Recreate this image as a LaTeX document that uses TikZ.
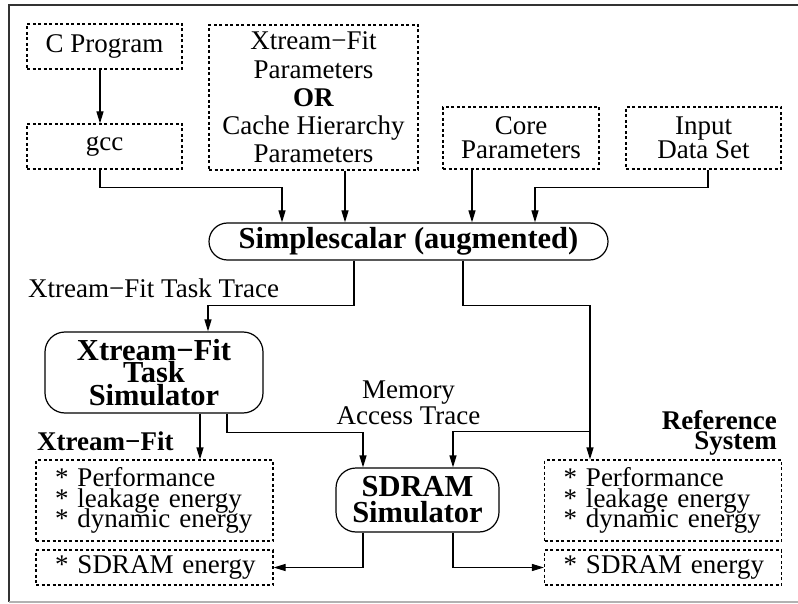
\documentclass[tikz,border=0pt]{standalone}
\usepackage{fontspec}
\setmainfont{Liberation Serif}
\usetikzlibrary{arrows.meta}
\newcommand{\fixls}{\lineskiplimit=-100pt\lineskip=0pt}
\newcommand{\rg}{\fontsize{27}{28}\selectfont\fixls}
\newcommand{\bg}{\fontsize{30.5}{22.5}\selectfont\bfseries\fixls}
\tikzset{
  dotbox/.style={draw, line width=1.2pt, dash pattern=on 3pt off 2.5pt, inner sep=0pt, align=center, font=\rg},
  resbox/.style={dotbox, align=left, text width=199pt, inner xsep=19pt, inner ysep=0pt},
  simbox/.style={draw, line width=1.2pt, rounded corners=20pt, inner sep=0pt, align=center, font=\bg},
  arr/.style={line width=1.2pt, -{Triangle[length=12pt,width=7pt]}},
  lbl/.style={inner sep=0pt, font=\rg},
}
\begin{document}
\begin{tikzpicture}[x=1pt,y=-1pt]
\useasboundingbox (0,0) rectangle (798,604);
% frame
\draw[line width=1.5pt, draw=black!80] (798,5) -- (9,5) -- (9,602);
\draw[line width=1.2pt, draw=black!30] (9,602) -- (798,602);
% input boxes
\node[dotbox, minimum width=155pt, minimum height=45pt] (cprog) at (104.5,46.5) {C Program};
\node[dotbox, minimum width=155pt, minimum height=45pt, text depth=5pt] (gcc) at (104.5,146.5) {gcc};
\node[dotbox, minimum width=209pt, minimum height=145pt, font=\fontsize{27}{28.3}\selectfont\fixls] (xparam) at (313.5,97.5)
  {Xtream−Fit\\Parameters\\\textbf{OR}\\Cache Hierarchy\\Parameters};
\node[dotbox, minimum width=156pt, minimum height=62pt, font=\fontsize{27}{24}\selectfont\fixls] (core) at (521,138) {Core\\Parameters};
\node[dotbox, minimum width=155pt, minimum height=62pt, font=\fontsize{27}{24}\selectfont\fixls] (input) at (703.5,138) {Input\\Data Set};
% simulators
\node[simbox, minimum width=399pt, minimum height=37pt, rounded corners=18.5pt] (simple) at (408.5,241.5) {Simplescalar (augmented)};
\node[simbox, minimum width=218pt, minimum height=81pt] (task) at (154,372.5) {Xtream−Fit\\Task\\Simulator};
\node[simbox, minimum width=163pt, minimum height=64pt, font=\fontsize{30.5}{26}\selectfont\bfseries\fixls] (sdram) at (417.5,500) {SDRAM\\Simulator};
% result boxes
\node[resbox, minimum height=81pt, font=\fontsize{27}{20.5}\selectfont\fixls] (xres) at (154.5,500.5) {\mbox{* Performance}\\\mbox{* leakage energy}\\\mbox{* dynamic energy}};
\node[resbox, minimum height=35pt] (xsd) at (154.5,567.5) {\mbox{* SDRAM energy}};
\node[resbox, minimum height=81pt, font=\fontsize{27}{20.5}\selectfont\fixls] (rres) at (663,500.5) {\mbox{* Performance}\\\mbox{* leakage energy}\\\mbox{* dynamic energy}};
\node[resbox, minimum height=35pt] (rsd) at (663,567.5) {\mbox{* SDRAM energy}};
% labels
\node[lbl, anchor=base west] (ttrace) at (28,297) {Xtream−Fit Task Trace};
\node[lbl, align=center, font=\fontsize{27}{26}\selectfont\fixls] (mtrace) at (408.5,403) {Memory\\Access Trace};
\node[lbl, anchor=base west, font=\fontsize{27}{28}\selectfont\bfseries] (xlab) at (37,450) {Xtream−Fit};
\node[lbl, anchor=east, align=right, font=\fontsize{27}{20.5}\selectfont\bfseries\fixls] (rlab) at (777,433) {Reference\\System};
% connectors
\draw[arr] ([xshift=-4.5]cprog.south) -- ([xshift=-4.5]gcc.north);
\draw[arr] ([xshift=-4.5]gcc.south) -- ++(0,18) -| ([xshift=-126.5]simple.north);
\draw[arr] ([xshift=31.5]xparam.south) -- ([xshift=-63.5]simple.north);
\draw[arr] ([xshift=-49]core.south) -- ([xshift=63.5]simple.north);
\draw[arr] ([xshift=4.5]input.south) -- ++(0,18) -| ([xshift=126.5]simple.north);
\draw[arr] ([xshift=-54.5]simple.south) -- ++(0,45) -| ([xshift=54]task.north);
\draw[arr] ([xshift=54.5]simple.south) -- ++(0,45) -| ([xshift=-73]rres.north);
\draw[arr] ([xshift=-73,yshift=28]rres.north) -| ([xshift=35.5]sdram.north);
\draw[arr] ([xshift=46]task.south) -- ([xshift=45.5]xres.north);
\draw[arr] ([xshift=73]task.south) -- ++(0,19) -| ([xshift=-54.5]sdram.north);
\draw[arr] ([xshift=-54.5]sdram.south) |- (xsd.east);
\draw[arr] ([xshift=35.5]sdram.south) |- (rsd.west);
\end{tikzpicture}
\end{document}
